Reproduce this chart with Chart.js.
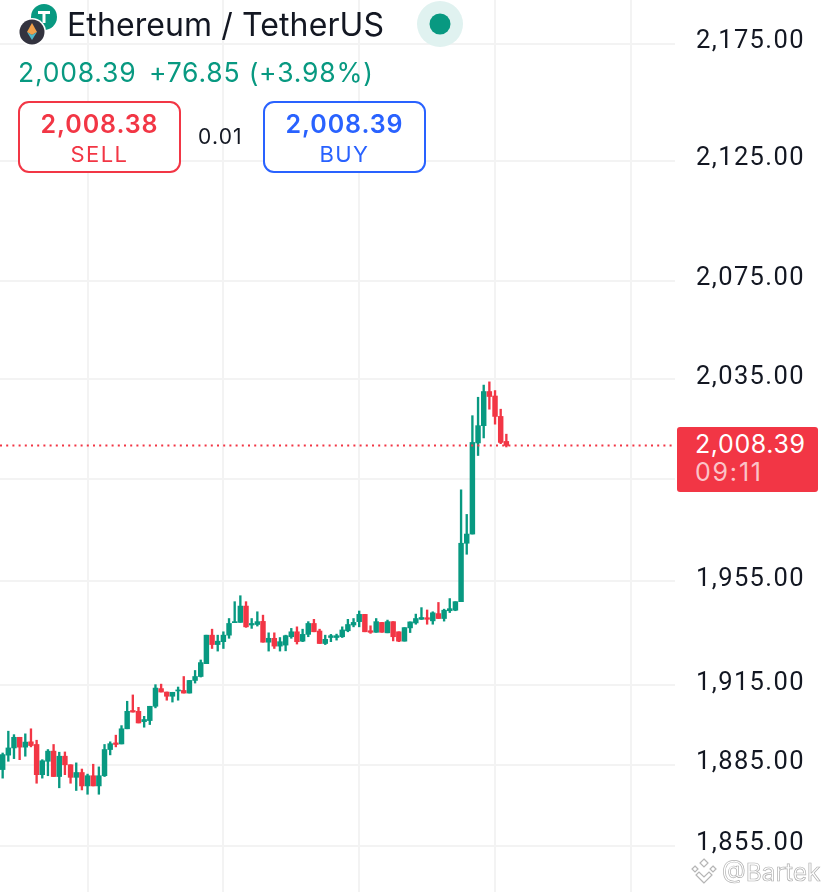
<!DOCTYPE html>
<html>
<head>
<meta charset="utf-8">
<title>ETH/USDT</title>
<script src="https://cdn.jsdelivr.net/npm/chart.js@4"></script>
<style>
  html, body { margin: 0; padding: 0; background: #fff; }
  body { width: 828px; height: 892px; position: relative; overflow: hidden; font-family: Inter, "Noto Sans", sans-serif; color: #131722; }
  canvas { position: absolute; left: 0; top: 0; }
  .abs { position: absolute; white-space: nowrap; }
  .box { position: absolute; top: 101px; width: 159px; height: 68px; border: 2px solid; border-radius: 11px; background: #fff; text-align: center; }
  .box .p { position: absolute; left: 0; right: 0; top: 6px; font-size: 25px; font-weight: 600; line-height: 30px; letter-spacing: 0.9px; }
  .box .s { position: absolute; left: 0; right: 0; top: 37px; font-size: 22px; line-height: 28px; letter-spacing: 1.4px; }
  #badge { position: absolute; left: 677px; top: 427px; width: 141px; height: 65px; background: #f23645; border-radius: 3px; color: #fff; }
</style>
</head>
<body>
<canvas id="Chart" width="828" height="892"></canvas>

<svg class="abs" style="left:0;top:0" width="70" height="50">
  <circle cx="44" cy="17" r="13" fill="#089981"/>
  <path d="M38 11h12v3h-4.500v9h-3v-9H38z" fill="#fff"/>
  <circle cx="32" cy="32" r="14" fill="#fff"/>
  <circle cx="32" cy="32" r="12.500" fill="#33333f"/>
  <path d="M32 23l5 9-5 3-5-3z" fill="#f0a04b"/>
  <path d="M32 35l5-3-5 8-5-8z" fill="#4fb8c9"/>
</svg>
<div class="abs" style="left:67px;top:5px;font-size:32px;line-height:40px;letter-spacing:0.1px">Ethereum / TetherUS</div>
<svg class="abs" style="left:415px;top:1px" width="50" height="48">
  <circle cx="25" cy="23" r="23" fill="#e0f2f0"/>
  <circle cx="25" cy="23" r="10.500" fill="#089981"/>
</svg>
<div class="abs" style="left:18px;top:55px;font-size:26.500px;line-height:34px;color:#089981;letter-spacing:0.8px">2,008.39</div>
<div class="abs" style="left:149px;top:55px;font-size:26.500px;line-height:34px;color:#089981;letter-spacing:0.8px">+76.85 (+3.98%)</div>

<div class="box" style="left:18px;border-color:#f23645;color:#f23645"><div class="p">2,008.38</div><div class="s">SELL</div></div>
<div class="abs" style="left:198px;top:124px;font-size:21px;line-height:26px;letter-spacing:1.2px">0.01</div>
<div class="box" style="left:263px;border-color:#2962ff;color:#2962ff"><div class="p">2,008.39</div><div class="s">BUY</div></div>

<div id="badge">
  <div class="abs" style="left:18px;top:2px;font-size:25px;line-height:30px;letter-spacing:0.6px">2,008.39</div>
  <div class="abs" style="left:18px;top:30px;font-size:25px;line-height:30px;letter-spacing:1.8px;color:#fbc3c8">09:11</div>
</div>

<svg class="abs" style="left:690px;top:858px" width="32" height="26" fill="none" stroke="#b5b5b5" stroke-width="1.200">
  <path d="M14 1l4 4-4 4-4-4zM5 8l3 3-3 3-3-3zM23 8l3 3-3 3-3-3zM14 25l-8-8 3-3 5 5 5-5 3 3z"/>
</svg>
<div class="abs" style="left:722px;top:855px;font-size:24.500px;line-height:34px;color:#fff;-webkit-text-stroke:0.7px #b0b0b0">@Bartek</div>

<script>
// one entry per candle, oldest first
const opens = [1883.3,1888.7,1891.4,1895.4,1891.7,1893.7,1892.7,1881.4,1886.4,1890.2,
  1880.7,1888.3,1885.1,1880.4,1882.2,1877.2,1881.0,1877.2,1881.0,1890.8,
  1893.3,1892.9,1898.6,1905.5,1905.2,1901.3,1901.7,1907.1,1913.8,1912.5,
  1910.9,1912.9,1913.1,1912.1,1916.9,1918.4,1923.3,1934.2,1930.6,1931.7,
  1934.2,1939.0,1939.1,1945.4,1938.1,1938.3,1939.5,1931.5,1933.0,1930.0,
  1930.4,1933.6,1935.5,1931.9,1934.5,1938.7,1935.8,1931.0,1933.3,1933.3,
  1933.6,1935.9,1938.1,1939.4,1942.2,1935.9,1935.3,1939.1,1935.1,1939.4,
  1935.5,1931.9,1937.0,1938.9,1940.3,1940.9,1939.7,1942.5,1940.6,1943.6,
  1943.8,1947.1,1969.8,1973.4,2009.4,2016.3,2030.0,2028.2,2020.0,2010.0];
const closes = [1888.9,1891.4,1895.4,1891.7,1893.6,1892.3,1881.4,1886.6,1890.2,1880.7,
  1888.3,1885.1,1880.4,1882.2,1877.2,1881.0,1877.2,1881.0,1890.8,1893.0,
  1892.7,1898.6,1905.2,1904.9,1900.8,1902.1,1907.1,1914.0,1912.5,1910.9,
  1912.4,1913.3,1912.1,1916.9,1918.4,1923.7,1934.2,1930.6,1931.9,1934.2,
  1938.7,1939.4,1945.4,1937.4,1938.7,1939.4,1931.5,1933.0,1930.0,1931.7,
  1934.0,1935.5,1931.7,1934.5,1938.7,1935.5,1931.0,1932.6,1934.0,1934.0,
  1936.2,1938.3,1939.1,1942.2,1935.5,1935.3,1939.4,1935.3,1939.4,1933.6,
  1931.9,1937.1,1939.3,1940.6,1941.0,1940.3,1942.8,1940.6,1943.8,1944.4,
  1947.1,1969.8,1973.4,2009.6,2016.3,2030.0,2028.0,2020.0,2009.6,2008.39];
const highs = [1889.5,1897.7,1896.4,1895.4,1896.7,1898.6,1894.3,1887.0,1890.8,1892.7,
  1889.8,1889.9,1885.1,1885.8,1883.5,1881.6,1885.3,1884.3,1892.7,1893.7,
  1896.2,1899.8,1909.0,1911.4,1906.7,1903.3,1907.1,1915.3,1915.5,1912.5,
  1912.4,1914.4,1918.4,1916.9,1920.7,1924.7,1934.2,1936.5,1934.2,1935.5,
  1940.6,1947.1,1949.4,1947.1,1940.6,1943.2,1941.9,1935.1,1935.1,1933.3,
  1934.2,1936.8,1937.4,1936.5,1939.4,1940.3,1936.5,1934.2,1934.5,1934.6,
  1937.4,1940.3,1940.6,1943.5,1942.2,1937.8,1940.6,1939.1,1940.0,1939.4,
  1935.5,1937.1,1939.3,1942.3,1944.8,1943.9,1943.2,1946.8,1944.2,1948.3,
  1947.1,1990.8,1981.1,2020.3,2027.7,2032.6,2033.9,2030.4,2022.9,2012.9];
const lows = [1880.1,1886.4,1887.4,1887.0,1888.3,1891.8,1878.2,1880.1,1881.0,1880.7,
  1876.5,1881.4,1878.2,1875.5,1875.7,1874.1,1877.2,1874.1,1880.7,1888.8,
  1891.8,1892.9,1898.6,1904.9,1900.8,1899.2,1900.2,1906.5,1912.5,1909.4,
  1908.7,1909.4,1912.1,1912.1,1915.9,1918.2,1923.3,1929.1,1928.1,1929.1,
  1933.0,1939.0,1939.1,1937.2,1936.8,1937.7,1931.5,1928.1,1929.1,1928.1,
  1928.2,1933.0,1930.8,1931.7,1933.6,1935.5,1931.0,1930.6,1931.7,1932.3,
  1933.3,1935.5,1937.4,1937.4,1935.5,1934.9,1935.3,1935.3,1935.1,1932.0,
  1931.7,1931.9,1935.2,1938.4,1940.2,1938.4,1938.4,1940.6,1939.6,1942.9,
  1943.6,1947.1,1965.5,1973.4,2004.4,2011.4,2022.9,2016.9,2009.1,2007.8];
const priceTicks = [2175, 2125, 2075, 2035, 1995, 1955, 1915, 1885, 1855];
const timeTicks = [15, 39, 63, 87, 111];
const lastPrice = 2008.39;

const UP = "#089981";
const DOWN = "#f23645";
const xMin = -0.47, xMax = 118.8;

const candleColors = closes.map((c, i) => (c >= opens[i] ? UP : DOWN));

new Chart(document.getElementById("Chart").getContext("2d"), {
  type: "bar",
  plugins: [{
    id: "tickSpacing",
    beforeDraw: (chart) => {
      chart.ctx.letterSpacing = "1.4px";
    },
  }],
  data: {
    datasets: [
      {
        type: "line",
        data: [{ x: xMin, y: lastPrice }, { x: xMax, y: lastPrice }],
        borderColor: DOWN,
        borderWidth: 2,
        borderDash: [2, 4.2],
        pointRadius: 0,
        order: 0,
      },
      {
        data: opens.map((o, i) => ({ x: i, y: [o, closes[i]] })),
        backgroundColor: candleColors,
        barThickness: 4.8,
        order: 1,
      },
      {
        data: lows.map((l, i) => ({ x: i, y: [l, highs[i]] })),
        backgroundColor: candleColors,
        barThickness: 1.7,
        order: 2,
      },
    ],
  },
  options: {
    responsive: false,
    animation: false,
    layout: { padding: 0, autoPadding: false },
    plugins: { legend: { display: false }, tooltip: { enabled: false } },
    datasets: { bar: { grouped: false } },
    scales: {
      x: {
        type: "linear",
        min: xMin,
        max: xMax,
        offset: false,
        border: { display: false },
        grid: { color: "#f3f3f3", lineWidth: 2, offset: false, drawTicks: false },
        ticks: { display: false },
        afterBuildTicks: (scale) => {
          scale.ticks = timeTicks.map((v) => ({ value: v }));
        },
      },
      y: {
        type: "logarithmic",
        position: "right",
        min: 1838.1,
        max: 2194,
        border: { display: false },
        grid: { color: "#f3f3f3", lineWidth: 2, drawTicks: false },
        afterBuildTicks: (scale) => {
          scale.ticks = priceTicks.map((v) => ({ value: v }));
        },
        afterFit: (scale) => {
          scale.width = 153;
          scale.paddingTop = 0;
          scale.paddingBottom = 0;
        },
        ticks: {
          autoSkip: false,
          padding: 21,
          labelOffset: -2,
          color: "#131722",
          font: { family: "Roboto", size: 25.5 },
          // 1,995 sits behind the price badge
          callback: (v) => (v === 1995 ? "" : v.toLocaleString("en-US", { minimumFractionDigits: 2 })),
        },
      },
    },
  },
});
</script>
</body>
</html>
